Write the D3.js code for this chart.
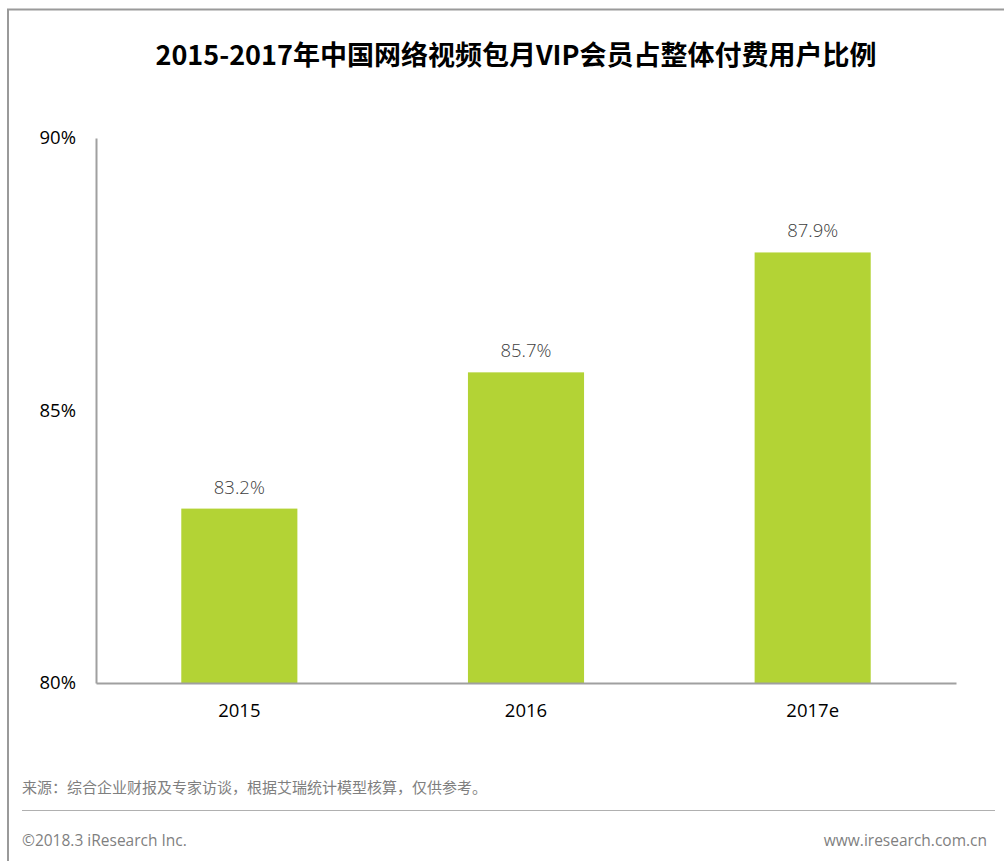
<!DOCTYPE html>
<html>
<head>
<meta charset="utf-8">
<script src="https://cdn.jsdelivr.net/npm/d3@7"></script>
<style>
  body { margin: 0; background: #fff; }
  svg { display: block; font-family: "Noto Sans CJK SC", "Noto Sans", sans-serif; }
</style>
</head>
<body>
<svg id="chart"></svg>
<script>
var years = ["2015", "2016", "2017e"];
var shares = [83.2, 85.7, 87.9];
var yTicks = [80, 85, 90];

var width = 1004, height = 861;
var margin = {top: 138, left: 96, right: 48, bottom: 178};

var svg = d3.select("#chart").attr("width", width).attr("height", height);

// outer frame (top and left edges only)
svg.append("path")
  .attr("d", "M8," + height + "V9.5H" + width)
  .attr("fill", "none")
  .attr("stroke", "#9a9a9a")
  .attr("stroke-width", 2);

svg.append("text")
  .attr("x", 516).attr("y", 65)
  .attr("text-anchor", "middle")
  .style("font-size", "27px")
  .style("font-weight", "bold")
  .attr("fill", "#000")
  .text("2015-2017年中国网络视频包月VIP会员占整体付费用户比例");

var x = d3.scaleBand()
  .domain(years)
  .range([margin.left, width - margin.right])
  .paddingInner(0.595)
  .paddingOuter(0.2975);

var y = d3.scaleLinear()
  .domain([80, 90])
  .range([height - margin.bottom, margin.top]);

// bars
svg.selectAll(".bar")
  .data(shares)
  .enter()
  .append("rect")
    .attr("x", function(d, i){ return x(years[i]) })
    .attr("y", function(d){ return y(d) })
    .attr("width", x.bandwidth())
    .attr("height", function(d){ return y(80) - y(d) })
    .attr("fill", "#b3d335");

svg.selectAll(".val")
  .data(shares)
  .enter()
  .append("text")
    .attr("x", function(d, i){ return x(years[i]) + x.bandwidth() / 2 })
    .attr("y", function(d){ return y(d) - 15 })
    .attr("text-anchor", "middle")
    .attr("fill", "#404040")
    .style("font-size", "18.5px")
    .style("font-family", "'Open Sans', sans-serif")
    .style("font-weight", 300)
    .text(function(d){ return d.toFixed(1) + "%" });

// y axis
var yAxis = svg.append("g")
  .attr("transform", "translate(" + margin.left + ",0)")
  .call(d3.axisLeft(y).tickValues(yTicks).tickSize(0).tickPadding(20).tickFormat(function(d){ return d + "%" }));
yAxis.select(".domain").attr("stroke", "#a0a0a0").attr("stroke-width", 2);
yAxis.selectAll("text").style("font-size", "18.5px").style("font-family", "'Open Sans', sans-serif").attr("fill", "#000");

// x axis
var xAxis = svg.append("g")
  .attr("transform", "translate(0," + y(80) + ")")
  .call(d3.axisBottom(x).tickSize(0).tickPadding(21));
xAxis.select(".domain").attr("stroke", "#a0a0a0").attr("stroke-width", 2);
xAxis.selectAll("text").style("font-size", "18.5px").style("font-family", "'Open Sans', sans-serif").attr("fill", "#000");

// footer
svg.append("text")
  .attr("x", 22).attr("y", 793)
  .attr("fill", "#7f7f7f")
  .style("font-size", "15px")
  .text("来源：综合企业财报及专家访谈，根据艾瑞统计模型核算，仅供参考。");

svg.append("line")
  .attr("x1", 22).attr("x2", 995)
  .attr("y1", 810.5).attr("y2", 810.5)
  .attr("stroke", "#b0b0b0")
  .attr("stroke-width", 1);

svg.append("text")
  .attr("x", 22).attr("y", 846)
  .attr("fill", "#7f7f7f")
  .style("font-size", "15.5px")
  .style("font-family", "'Open Sans', sans-serif")
  .text("©2018.3 iResearch Inc.");

svg.append("text")
  .attr("x", 987).attr("y", 846)
  .attr("text-anchor", "end")
  .attr("fill", "#7f7f7f")
  .style("font-size", "15.5px")
  .style("font-family", "'Open Sans', sans-serif")
  .text("www.iresearch.com.cn");
</script>
</body>
</html>
